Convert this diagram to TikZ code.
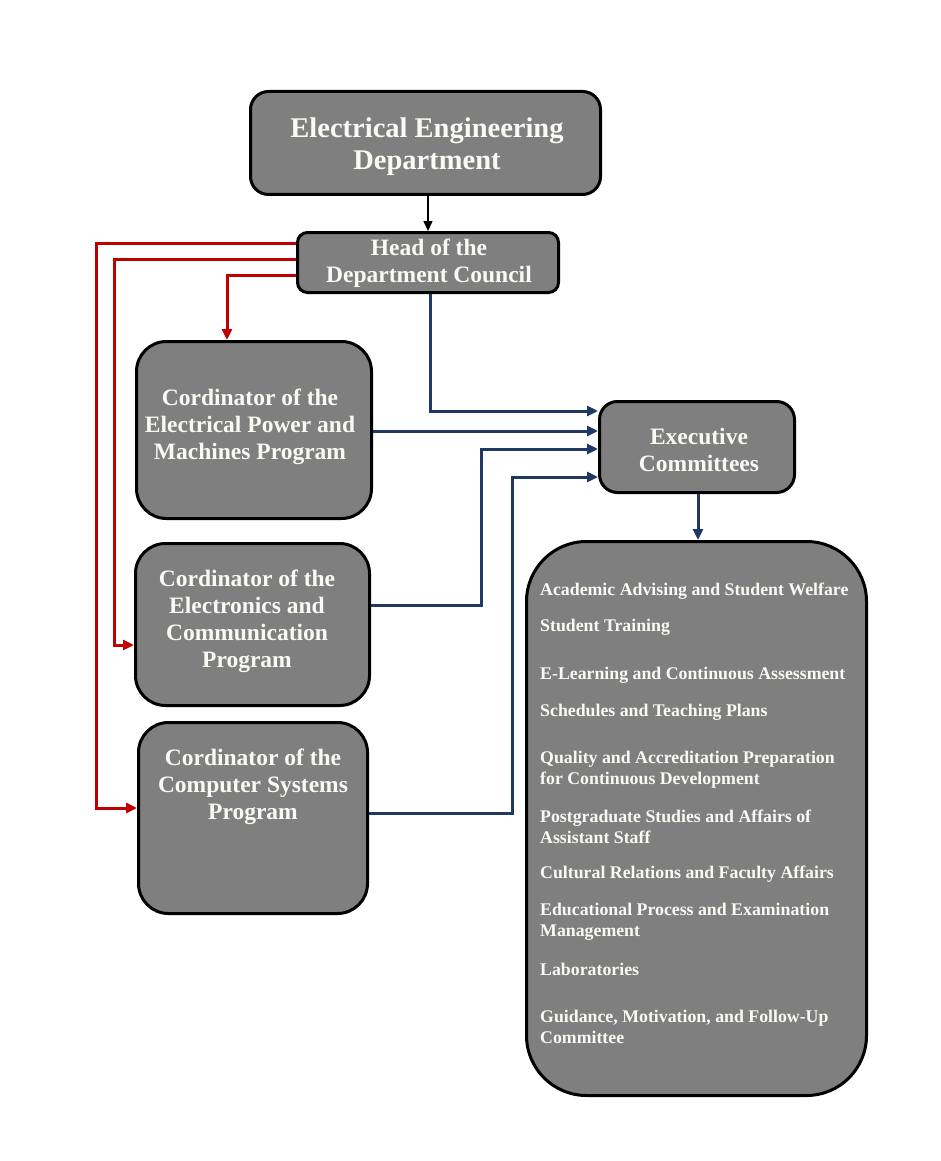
\documentclass[tikz,border=0pt]{standalone}
\usepackage{fontspec}
\setmainfont{Liberation Serif}
\usetikzlibrary{arrows.meta}
\definecolor{boxgray}{RGB}{127,127,127}
\definecolor{linkred}{RGB}{192,0,0}
\definecolor{linkblue}{RGB}{31,56,100}
\definecolor{boxtext}{RGB}{250,250,245}
\begin{document}
\begin{tikzpicture}[x=1pt,y=-1pt,
 box/.style={draw=black, line width=3pt, fill=boxgray, inner sep=0pt},
 title/.style={text=boxtext, font=\bfseries\fontsize{23.5}{27}\selectfont, align=center, inner sep=0pt},
 item/.style={text=boxtext, font=\bfseries\fontsize{17.8}{21}\selectfont, align=left, anchor=west, inner sep=0pt},
 redlink/.style={draw=linkred, line width=3pt, -{Triangle[length=11pt,width=10pt]}},
 bluelink/.style={draw=linkblue, line width=3pt, -{Triangle[length=11pt,width=10pt]}},
 blacklink/.style={draw=black, line width=1.5pt, -{Triangle[length=10pt,width=9pt]}},
]
\useasboundingbox (0,0) rectangle (941,1161);

% boxes
\node[box, rounded corners=18pt, minimum width=350pt, minimum height=103pt] (eed) at (425.5,143) {};
\node[box, rounded corners=10pt, minimum width=261pt, minimum height=60pt] (head) at (428,262.5) {};
\node[box, rounded corners=30pt, minimum width=235pt, minimum height=177pt] (c1) at (254,430) {};
\node[box, rounded corners=30pt, minimum width=234pt, minimum height=162pt] (c2) at (252.5,624.5) {};
\node[box, rounded corners=30pt, minimum width=229pt, minimum height=191pt] (c3) at (253,818) {};
\node[box, rounded corners=18pt, minimum width=195pt, minimum height=91pt] (exec) at (697,447) {};
\node[box, rounded corners=60pt, minimum width=340pt, minimum height=554pt] (list) at (696.5,818.5) {};

% box texts
\node[title, font=\bfseries\fontsize{28.5}{32}\selectfont] (eedt) at (427,147) {Electrical Engineering\\Department};
\begin{scope}
\clip (296,231) rectangle (560,286);
\node[title] (headt) at (429,263) {Head of the\\Department Council};
\end{scope}
\node[title] (c1t) at (250,427) {Cordinator of the\\Electrical Power and\\Machines Program};
\node[title] (c2t) at (247,621) {Cordinator of the\\Electronics and\\Communication\\Program};
\node[title] (c3t) at (253,787) {Cordinator of the\\Computer Systems\\Program};
\node[title] (exect) at (699,450) {Executive\\Committees};

% committee list
\node[item] (i1) at (540,591) {Academic Advising and Student Welfare};
\node[item] (i2) at (540,627) {Student Training};
\node[item] (i3) at (540,675) {E-Learning and Continuous Assessment};
\node[item] (i4) at (540,712) {Schedules and Teaching Plans};
\node[item] (i5) at (540,769.5) {Quality and Accreditation Preparation\\for Continuous Development};
\node[item] (i6) at (540,826.5) {Postgraduate Studies and Affairs of\\Assistant Staff};
\node[item] (i7) at (540,874) {Cultural Relations and Faculty Affairs};
\node[item] (i8) at (540,921.5) {Educational Process and Examination\\Management};
\node[item] (i9) at (540,969) {Laboratories};
\node[item] (i10) at (540,1026.5) {Guidance, Motivation, and Follow-Up\\Committee};

% connectors
\draw[blacklink] (eed.south -| 428,0) -- (head.north -| 428,0);
\draw[redlink] (head.west |- 0,243) -| (96,808) -- (c3.west |- 0,808);
\draw[redlink] (head.west |- 0,259) -| (114,645) -- (c2.west |- 0,645);
\draw[redlink] (head.west |- 0,275) -| (c1.north -| 227,0);
\draw[bluelink] (head.south -| 430,0) |- (exec.west |- 0,411);
\draw[bluelink] (c1.east |- 0,431) -- (exec.west |- 0,431);
\draw[bluelink] (c2.east |- 0,605) -| (481,449) -- (exec.west |- 0,449);
\draw[bluelink] (c3.east |- 0,813) -| (512,477) -- (exec.west |- 0,477);
\draw[bluelink] (exec.south -| 698,0) -- (list.north -| 698,0);
\end{tikzpicture}
\end{document}
